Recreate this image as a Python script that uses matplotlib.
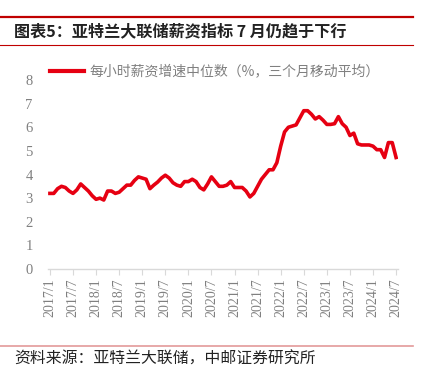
import matplotlib
matplotlib.use("Agg")
import matplotlib.pyplot as plt
from matplotlib.lines import Line2D

plt.rcParams['font.family'] = ['Noto Sans CJK SC', 'DejaVu Sans']

# 亚特兰大联储每小时薪资增速中位数（%，三个月移动平均），2017/1 - 2024/7 月度
wage = [
    3.2, 3.2, 3.4, 3.5, 3.45, 3.3, 3.2, 3.35, 3.6, 3.45, 3.3, 3.1,    # 2017
    2.95, 3.0, 2.92, 3.3, 3.3, 3.2, 3.25, 3.4, 3.55, 3.55, 3.75, 3.9,  # 2018
    3.85, 3.8, 3.4, 3.55, 3.68, 3.85, 3.97, 3.85, 3.65, 3.55, 3.5, 3.7,  # 2019
    3.7, 3.8, 3.7, 3.45, 3.35, 3.6, 3.9, 3.7, 3.5, 3.5, 3.55, 3.7,   # 2020
    3.45, 3.45, 3.45, 3.3, 3.05, 3.2, 3.5, 3.8, 4.0, 4.2, 4.2, 4.5,   # 2021
    5.2, 5.8, 6.0, 6.05, 6.1, 6.4, 6.7, 6.7, 6.55, 6.35, 6.45, 6.3,   # 2022
    6.12, 6.12, 6.15, 6.45, 6.15, 6.0, 5.65, 5.75, 5.3, 5.25, 5.25, 5.25,  # 2023
    5.2, 5.05, 5.05, 4.72, 5.35, 5.35, 4.72,                           # 2024
]
months = [f"{2017 + k // 12}/{k % 12 + 1}" for k in range(len(wage))]
tick_idx = list(range(0, len(wage), 6))
tick_lab = [months[k] for k in tick_idx]
yticks = list(range(0, 9))

RED = "#E60012"
GRAY = "#808080"

W, H = 425, 378
fig = plt.figure(figsize=(W / 100, H / 100), dpi=100)

ax = fig.add_axes([48 / W, 1 - 269 / H, 350 / W, 189 / H])
x = list(range(len(wage)))
ax.plot(x, wage, color=RED, lw=2.6, solid_joinstyle="round")
ax.set_xlim(-0.5, len(wage) - 0.5)
ax.set_ylim(0, 8)

for s in ("top", "right", "left"):
    ax.spines[s].set_visible(False)
ax.spines["bottom"].set_color("#d9d9d9")
ax.spines["bottom"].set_linewidth(1.0)

serif = ["Liberation Serif", "DejaVu Serif"]
ax.set_yticks(yticks)
ax.set_yticklabels([str(v) for v in yticks], family=serif, fontsize=10.5, color=GRAY)
ax.tick_params(axis="y", length=0, pad=11)
ax.set_xticks(tick_idx)
ax.set_xticklabels(tick_lab, rotation=90, family=serif, fontsize=10, color=GRAY)
ax.tick_params(axis="x", length=4, color="#d9d9d9", pad=3)

leg = ax.legend([Line2D([], [], color=RED, lw=3)],
                ["每小时薪资增速中位数（%，三个月移动平均）"],
                loc="upper left", bbox_to_anchor=(44 / W, 1 - 59 / H),
                bbox_transform=fig.transFigure, frameon=False,
                handlelength=2.5, handletextpad=0.35, borderaxespad=0,
                prop={"family": ["Noto Sans CJK SC", "DejaVu Sans"], "size": 10})
for t in leg.get_texts():
    t.set_color(GRAY)

# 标题与上下装饰线
fig.add_artist(Line2D([0, 413 / W], [1 - 17 / H, 1 - 17 / H], color="#C00000", lw=1.6))
fig.add_artist(Line2D([0, 413 / W], [1 - 44.5 / H, 1 - 44.5 / H], color="#C00000", lw=0.8))
fig.text(14 / W, 1 - 31 / H, "图表5：亚特兰大联储薪资指标 7 月仍趋于下行",
         fontsize=11.6, fontweight="bold", color="#222222", va="center", ha="left")

fig.add_artist(Line2D([0, 413 / W], [1 - 346 / H, 1 - 346 / H], color="#E39A9A", lw=1.2))
fig.text(14 / W, 1 - 359 / H, "资料来源：亚特兰大联储，中邮证券研究所",
         fontsize=11.4, color="#222222", va="center", ha="left")

fig.savefig("out.png", dpi=100)
